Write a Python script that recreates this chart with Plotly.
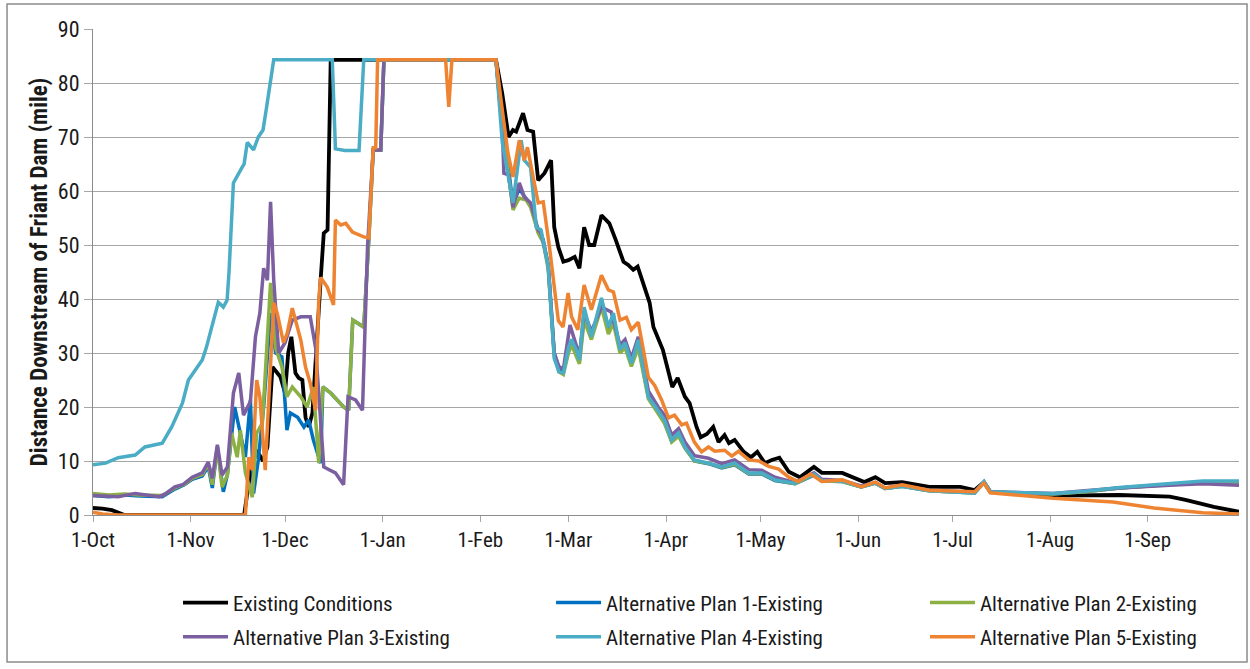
import pandas as pd
import plotly.graph_objects as go

# ---- data: (day of water year starting 1-Oct, miles downstream) ----
existing = [(0,1.3),(3,1.2),(6,0.9),(10,0),(48,0),(50,8),(52,12),(54,10),(55.4,12.6),(57,27.4),(59.5,25.6),(61,22.6),(62,30),(63,33),(64.3,26.3),(65.3,25.4),(66.5,25),(67.5,18.1),(68.5,16.3),(69.7,18.9),(72.3,43.5),(73.3,52.2),(74.5,52.8),(75.5,84.3),(128,84.3),(130,78),(132,70),(133.4,71.3),(134.4,71),(136.6,74.4),(138,71.3),(139.8,71),(141.4,62),(143.4,63.3),(145.5,65.7),(146.5,53.3),(147.8,49.6),(149.4,46.9),(151,47.2),(153,47.8),(154.5,45.7),(156,53.3),(157.6,50),(159.2,50),(161.5,55.5),(164,54),(166,51),(168.5,46.9),(170,46.3),(171.6,45.4),(173,46),(175,42.2),(176.8,39.3),(178,34.8),(181,30.6),(184,23.7),(185.7,25.4),(188,21.9),(189.5,20.7),(191.7,16.3),(193,14.4),(195,15),(197,16.3),(198.7,13.5),(200.6,14.8),(202,13.3),(203.8,13.9),(206.7,11.7),(209,10.7),(211,11.7),(213.4,9.6),(215.6,10.2),(218,10.6),(221,8),(224.5,7),(229,8.9),(231.5,7.8),(238,7.8),(245,6.1),(248.5,7),(251.6,5.9),(257,6.1),(265.6,5.2),(275.5,5.2),(280,4.6),(283,6.1),(285,4.3),(305,3.6),(315,3.7),(326,3.7),(342,3.4),(347,2.8),(356,1.5),(364,0.6)]

alt1 = [(0,3.6),(5,3.4),(10,3.7),(15,3.5),(22,3.4),(26,4.8),(29,5.6),(31.5,6.6),(34.7,7.2),(36.6,9.0),(37.9,5.0),(39.5,12.6),(41.4,4.3),(42.7,7.5),(45,20),(46.8,15),(48.4,10.7),(50,21.3),(51,4),(52.5,10.2),(54.2,20),(56.4,37.4),(58,30),(60,29.3),(61.6,15.7),(62.7,18.9),(65,18.1),(67,16.3),(68.5,17.6),(70,13.9),(72.3,9.6),(73,23.7),(75.5,22.6),(79.6,20),(81.2,19.4),(82.5,36.1),(86,34.8),(87.6,51),(89,67.6),(91.4,67.6),(92.4,84.3),(128,84.3),(130,72),(132,64),(133.4,57.5),(135.4,60.5),(137,59),(139,57.5),(141.4,52.5),(143,51),(144.6,46),(146.5,30),(148,27),(149.4,26.5),(151,30.5),(152,32),(153.5,30),(154.5,28.5),(156,37),(158.3,33),(161.5,39.5),(163.7,34.5),(165.3,36.5),(167.4,30.5),(169,31.5),(171,28),(173.2,31.5),(176.4,22),(179.5,19),(181.5,17.2),(183.8,13.7),(186,14.8),(188,12.5),(191,10),(195.5,9.5),(199.7,8.7),(203.8,9.3),(208.3,7.6),(212.4,7.6),(216.6,6.4),(223,5.8),(229,7.4),(231.5,6.3),(238,6.2),(244,5.2),(248.5,5.9),(251.6,4.9),(257,5.3),(265.6,4.5),(280,4.1),(283,6.0),(285,4.2),(305,3.9),(315,4.3),(326,5.0),(342,5.6),(352.5,6.1),(364,5.9)]

alt2 = [(0,4.0),(5,3.7),(10,3.9),(15,3.7),(22,3.6),(26,5.0),(29,5.7),(31.5,6.8),(34.7,7.5),(36.6,9.4),(37.9,5.6),(39.5,12.6),(41,5.2),(42.7,7.4),(44,15.2),(45.8,10.7),(46.8,15.7),(48.4,7.8),(50.6,3.3),(52,15.2),(53.8,17),(56.4,43),(58,31),(60,27.4),(61.6,21.9),(63.3,23.7),(66,21.9),(68,20),(70,23.7),(71.7,9.6),(73,23.7),(75.5,22.6),(79.6,20),(81.2,19.4),(82.5,36.1),(86,34.8),(87.6,51),(89,67.6),(91.4,67.6),(92.4,84.3),(128,84.3),(130,71),(132,63),(133.4,56.5),(135.4,58.7),(137.6,58.3),(139,57),(141.4,52.2),(143,50.5),(144.6,45.5),(146.5,29.5),(148,26.5),(149.4,26),(151,30),(152,31.5),(153.5,29.5),(154.5,28),(156,36),(158.3,32.5),(161.5,38.5),(163.7,33.5),(165.3,35.5),(167.4,30),(169,31),(171,27.5),(173.2,31),(176.4,21.5),(179.5,18.8),(181.5,17),(183.8,13.5),(186,14.6),(188,12.4),(191,10),(195.5,9.6),(199.7,8.8),(203.8,9.4),(208.3,7.7),(212.4,7.7),(216.6,6.5),(223,5.8),(229,7.5),(231.5,6.3),(238,6.2),(244,5.2),(248.5,5.9),(251.6,4.9),(257,5.3),(265.6,4.5),(280,4.1),(283,6.0),(285,4.2),(305,3.9),(315,4.3),(326,5.0),(342,5.6),(352.5,6.0),(364,5.8)]

alt3 = [(0,3.6),(5,3.4),(8,3.4),(13.4,4.0),(21,3.4),(23,3.9),(26,5.2),(28.5,5.6),(31.5,7.0),(34.7,7.8),(36.6,9.8),(37.9,6.8),(39.5,13),(41,7.4),(42.7,8.9),(44.6,22.6),(46.3,26.3),(47.8,18.5),(50,21),(51.6,33),(53,37.4),(54.2,45.7),(55.4,43.5),(56.4,58),(57.4,43.5),(59,30),(61,31.9),(63.3,36.1),(66,36.7),(69,36.7),(70.7,31),(73.3,8.9),(75.5,8.3),(77,7.8),(79.6,5.6),(81,21.9),(83.4,21.3),(85.6,19.4),(87.2,49.6),(89,67.6),(91.4,67.6),(92.4,84.3),(128,84.3),(130,71.9),(130.5,63.3),(132,63),(133.4,57),(135.4,61.5),(137,58.9),(139,57.8),(141.4,52.8),(142.3,52.2),(144.6,46.5),(146.5,30),(148,27.5),(149.4,27),(151.5,35.2),(153.5,31.5),(154.5,29.5),(156,37.5),(158.3,34),(161.5,38.5),(164.6,37.6),(167.4,31.5),(169,32.5),(171,29),(173.2,33),(176.4,23),(179.5,20),(181.5,18.5),(183.8,14.8),(186,16),(188,13.5),(191,11),(195.5,10.5),(199.7,9.5),(203.8,10.2),(208.3,8.4),(212.4,8.3),(216.6,7),(223,6),(229,7.8),(231.5,6.6),(238,6.4),(244,5.4),(248.5,6),(251.6,5),(257,5.4),(265.6,4.6),(280,4.2),(283,6.1),(285,4.3),(305,4.0),(315,4.5),(326,5.0),(342,5.5),(352.5,5.8),(364,5.5)]

alt4 = [(0,9.3),(4,9.6),(8,10.6),(13.4,11.1),(16.5,12.6),(22,13.3),(25,16.3),(28.4,20.7),(30.3,25),(32.5,26.9),(34.7,28.7),(36,31),(38,35.7),(39.8,39.4),(41.4,38.5),(42.6,39.8),(43.2,45),(44.6,61.5),(47,64),(48,65),(49,69),(51,67.6),(52.5,70),(54,71.3),(55,75),(56,79),(57.4,84.3),(76,84.3),(77,67.8),(80,67.5),(84.5,67.5),(86,84.3),(128,84.3),(130,69),(133.4,57.8),(136,69.4),(137,65.7),(139,64.4),(140.8,53.3),(142.3,52.8),(144.6,46),(146.5,29),(148,26.5),(149.4,26.3),(151,31),(152,32.5),(153.5,30.6),(154.5,28.7),(156,38.5),(158.3,33),(161.5,40.2),(163.7,34.8),(165.3,37.4),(167.4,30.6),(169,31.9),(171,28.1),(173.2,32.4),(176.4,21.9),(179.5,19.4),(181.5,17.6),(183.8,13.9),(186,15.2),(188,12.6),(191,10.2),(195.5,9.6),(199.7,8.9),(203.8,9.6),(208.3,7.8),(212.4,7.8),(216.6,6.5),(223,5.9),(229,7.6),(231.5,6.4),(238,6.3),(244,5.2),(248.5,5.9),(251.6,4.9),(257,5.3),(265.6,4.5),(280,4.1),(283,6.2),(285,4.3),(305,4.0),(315,4.4),(326,5.1),(342,5.8),(352.5,6.3),(364,6.3)]

alt5 = [(0,0.5),(3,0.2),(8,0),(48.4,0),(49.5,10.7),(50.6,8.3),(52,25),(53,21.9),(54.7,8.3),(56.4,26.3),(57.4,39.3),(58.5,37.4),(60.5,31.9),(61.7,33.7),(63.3,38.3),(64.3,36.1),(66,32.4),(67.5,27.4),(69,24.4),(70.7,19.4),(71.7,39.8),(72.3,44),(74.4,42.2),(76.4,38.9),(77,54.6),(78.7,53.7),(80.3,54),(82.4,52.4),(86,51.5),(87.6,51.3),(88.5,62),(89,68),(89.8,68),(90.4,84.3),(112,84.3),(113,75.6),(114,84.3),(128,84.3),(130,75),(131.8,67),(133.4,62.6),(135.4,69.4),(137,65.7),(138,68.1),(139.8,62.6),(141.4,57.8),(143,58),(145,49.6),(147.8,36),(149.3,34.8),(150.9,41.1),(152,36.7),(154,34.3),(156,42.6),(158.3,38),(161.5,44.4),(163.7,41.7),(165.3,41.3),(167.4,36.1),(169.4,36.6),(171,34.3),(173.2,35.7),(176.4,25.5),(178.4,24),(180.6,21.3),(182.8,18),(184.7,18.5),(187,16.7),(188.5,17),(191,13.5),(193.3,11.7),(195.5,12.6),(197.5,11.8),(200.6,12),(202.9,10.9),(205,11.8),(208.3,10.2),(211.5,10),(214.6,9),(217.8,8.5),(221,7),(224,6.2),(228,7.6),(231.5,6.2),(238,6.5),(244,5.2),(248.5,6.1),(251.6,5),(257,5.6),(265.6,4.6),(280,4.3),(283,5.9),(285,4.1),(305,3.1),(324,2.4),(337,1.3),(352.5,0.4),(364,0.2)]

names = ["Existing Conditions", "Alternative Plan 1-Existing", "Alternative Plan 2-Existing",
         "Alternative Plan 3-Existing", "Alternative Plan 4-Existing", "Alternative Plan 5-Existing"]
colors = ["#000000", "#0070C0", "#8DB045", "#7B5FA0", "#4AACC5", "#EE8431"]
month_ticks = ["2009-10-01", "2009-11-01", "2009-12-01", "2010-01-01", "2010-02-01", "2010-03-01",
               "2010-04-01", "2010-05-01", "2010-06-01", "2010-07-01", "2010-08-01", "2010-09-01"]
month_labels = ["1-Oct", "1-Nov", "1-Dec", "1-Jan", "1-Feb", "1-Mar",
                "1-Apr", "1-May", "1-Jun", "1-Jul", "1-Aug", "1-Sep"]

base = pd.Timestamp("2009-10-01")
FONT = "Liberation Sans Narrow, Roboto Condensed, Liberation Sans, Arial, sans-serif"
GRID = "#A6A6A6"
TXT = "#1a1a1a"

# legend slot positions (paper coords): 3 columns x 2 rows
leg_x = [0.0742, 0.3997, 0.726, 0.0742, 0.3997, 0.726]
leg_y = [-0.181, -0.181, -0.181, -0.251, -0.251, -0.251]

fig = go.Figure()
layout_legends = {}
for i, (name, series, color) in enumerate(zip(names, [existing, alt1, alt2, alt3, alt4, alt5], colors)):
    days = [d for d, _ in series]
    vals = [v for _, v in series]
    xs = [base + pd.Timedelta(days=d) for d in days]
    lname = "legend" if i == 0 else f"legend{i + 1}"
    fig.add_trace(go.Scatter(
        x=xs, y=vals, mode="lines", name=name,
        line=dict(color=color, width=3.8 if i == 0 else 3.5),
        legend=lname,
    ))
    layout_legends[lname] = dict(
        orientation="h", x=leg_x[i], xanchor="left", y=leg_y[i], yanchor="middle",
        itemwidth=45, font=dict(family=FONT, size=21, color=TXT), bgcolor="rgba(0,0,0,0)",
    )

fig.update_layout(
    width=1250, height=669,
    margin=dict(l=93, r=11, t=29, b=154),
    paper_bgcolor="white", plot_bgcolor="white",
    font=dict(family=FONT, size=21, color=TXT),
    showlegend=True,
    xaxis=dict(
        type="date",
        range=[base, base + pd.Timedelta(days=364)],
        tickmode="array", tickvals=month_ticks, ticktext=month_labels,
        ticks="outside", ticklen=6, tickcolor=GRID, tickwidth=1,
        showline=True, linecolor="#8C8C8C", linewidth=1,
        showgrid=False, zeroline=False,
        tickfont=dict(family=FONT, size=21, color=TXT),
    ),
    yaxis=dict(
        range=[0, 90], dtick=10, tick0=0,
        ticks="outside", ticklen=8, tickcolor=GRID, tickwidth=1,
        showline=True, linecolor="#8C8C8C", linewidth=1,
        showgrid=True, gridcolor=GRID, gridwidth=1, zeroline=False,
        tickfont=dict(family=FONT, size=22, color=TXT),
        title=dict(text="<b>Distance Downstream of Friant Dam (mile)</b>",
                   font=dict(family=FONT, size=23, color=TXT), standoff=3),
    ),
    shapes=[dict(type="rect", xref="paper", yref="paper",
                 x0=-0.075, x1=1.007, y0=-0.3025, y1=1.0514,
                 line=dict(color="#8C8C8C", width=1.5), fillcolor="rgba(0,0,0,0)", layer="below")],
)
fig.update_layout(**layout_legends)

fig.write_html("out.html")
